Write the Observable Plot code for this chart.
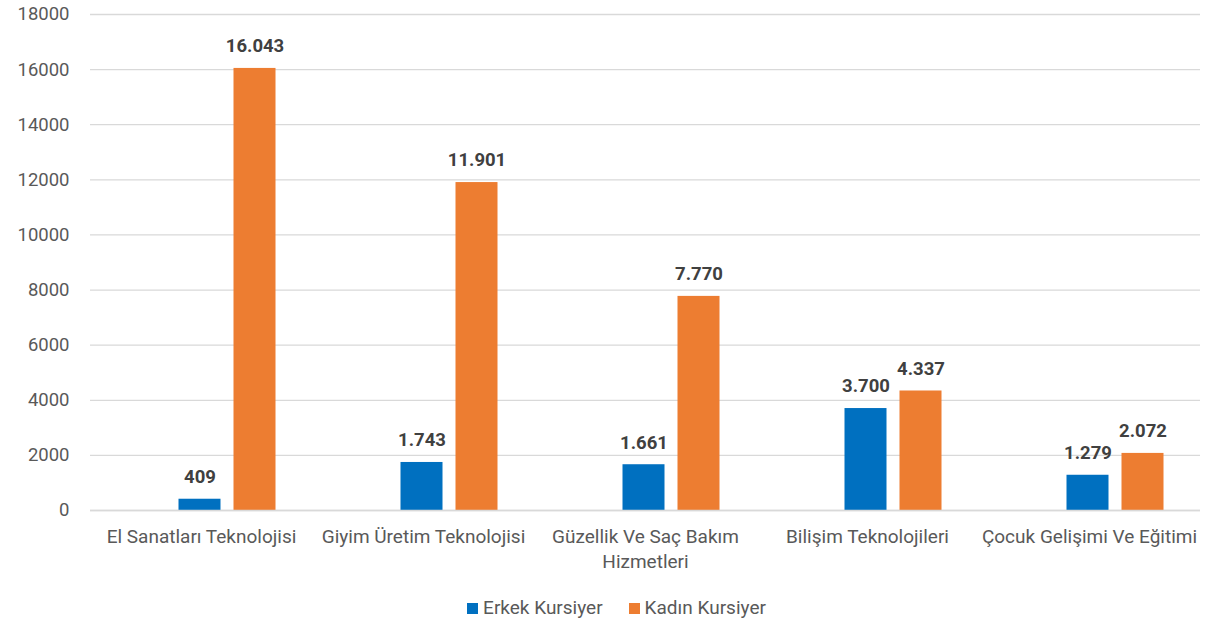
<!DOCTYPE html>
<html>
<head>
<meta charset="utf-8">
<script src="https://cdn.jsdelivr.net/npm/d3@7"></script>
<script src="https://cdn.jsdelivr.net/npm/@observablehq/plot@0.6"></script>
<style>
  body { margin: 0; background: #fff; font-family: Roboto, "Open Sans", sans-serif; }
  #chart { width: 1225px; }
  #chart svg g[aria-label="y-axis tick label"] text { font-size: 18.5px !important; }
  .legend { display: flex; justify-content: center; gap: 26px; font-size: 19px; color: #595959; margin-top: 15px; margin-left: 8px; line-height: 22px; }
  .legend span.sw { display: inline-block; width: 11px; height: 11px; margin-right: 5px; }
  .legend div { display: flex; align-items: center; }
</style>
</head>
<body>
<div id="chart"></div>
<script>
const categories = [
  "El Sanatları Teknolojisi",
  "Giyim Üretim Teknolojisi",
  "Güzellik Ve Saç Bakım Hizmetleri",
  "Bilişim Teknolojileri",
  "Çocuk Gelişimi Ve Eğitimi"
];
const categoryLabels = [
  "El Sanatları Teknolojisi",
  "Giyim Üretim Teknolojisi",
  "Güzellik Ve Saç Bakım\nHizmetleri",
  "Bilişim Teknolojileri",
  "Çocuk Gelişimi Ve Eğitimi"
];
const series = ["Erkek Kursiyer", "Kadın Kursiyer"];
const erkek = [409, 1743, 1661, 3700, 1279];
const kadin = [16043, 11901, 7770, 4337, 2072];
const colors = ["#0070C0", "#ED7D31"];
const yTicks = [0, 2000, 4000, 6000, 8000, 10000, 12000, 14000, 16000, 18000];

const data = [];
categories.forEach((c, i) => {
  data.push({category: c, series: series[0], value: erkek[i]});
  data.push({category: c, series: series[1], value: kadin[i]});
});
const fmt = v => d3.format(",")(v).replace(/,/g, ".");
const labelOf = new Map(categories.map((c, i) => [c, categoryLabels[i]]));

const chart = Plot.plot({
  width: 1225,
  height: 582,
  marginLeft: 88,
  marginRight: 24,
  marginTop: 14,
  marginBottom: 72,
  style: {fontFamily: "Roboto, 'Open Sans', sans-serif", fontSize: "19px", color: "#595959"},
  fx: {domain: categories, padding: 0, label: null},
  x: {domain: ["", ...series], paddingInner: 0.236, paddingOuter: 0.62, axis: null},
  y: {domain: [0, 18000], ticks: yTicks, label: null},
  color: {domain: series, range: colors},
  marks: [
    Plot.gridY(yTicks, {stroke: "#d9d9d9", strokeOpacity: 1, strokeWidth: 1.3}),
    Plot.axisY(yTicks, {tickSize: 0, tickPadding: 21, tickFormat: d => String(d), fontSize: 18.5, fill: "#595959", label: null}),
    Plot.axisFx({anchor: "bottom", tickSize: 0, tickPadding: 15, tickFormat: c => labelOf.get(c), fontSize: 19, fill: "#595959", lineHeight: 1.3, label: null}),
    Plot.barY(data, {fx: "category", x: "series", y: "value", fill: "series", dx: -1.5}),
    Plot.ruleY([0], {stroke: "#d9d9d9", strokeWidth: 1.3}),
    Plot.text(data, {fx: "category", x: "series", y: "value", text: d => fmt(d.value), dx: -1.5, dy: -22, fontSize: 18.5, fontWeight: "bold", fill: "#404040"})
  ]
});
document.getElementById("chart").appendChild(chart);

const legend = document.createElement("div");
legend.className = "legend";
series.forEach((s, i) => {
  const item = document.createElement("div");
  item.innerHTML = `<span class="sw" style="background:${colors[i]}"></span>${s}`;
  legend.appendChild(item);
});
document.getElementById("chart").appendChild(legend);
</script>
</body>
</html>
